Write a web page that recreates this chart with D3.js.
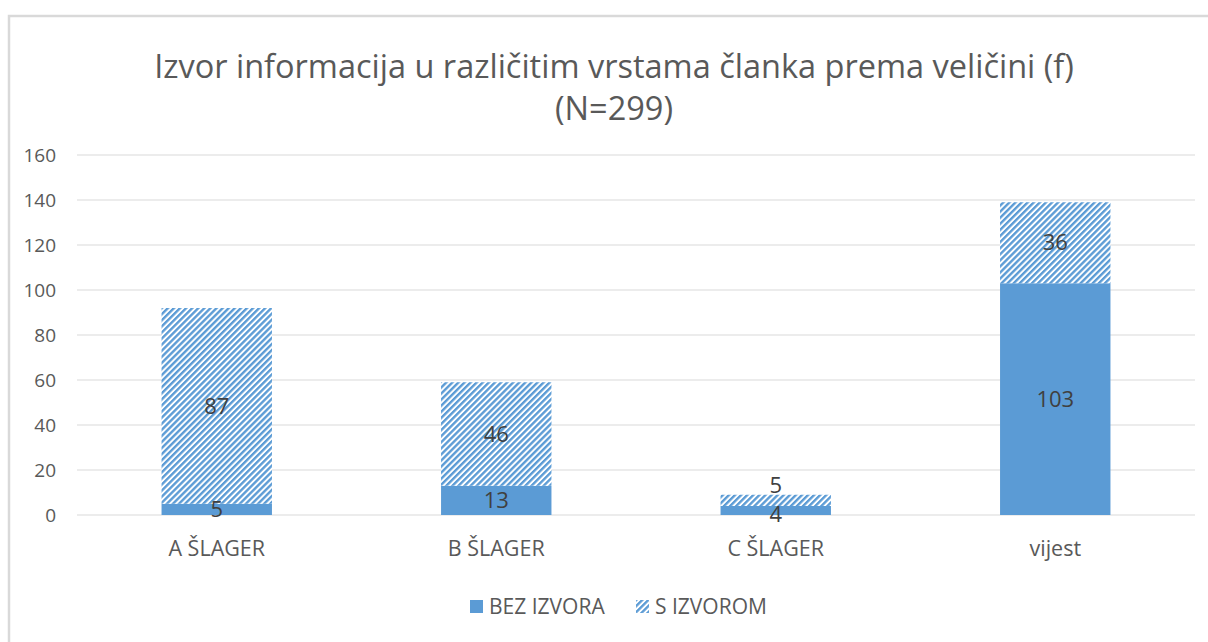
<!DOCTYPE html>
<html><head><meta charset="utf-8">
<script src="https://cdn.jsdelivr.net/npm/d3@7"></script>
<style>body{margin:0;background:#fff}svg{display:block}</style>
</head><body>
<script>
const categories = ["A ŠLAGER", "B ŠLAGER", "C ŠLAGER", "vijest"];
const bezIzvora = [5, 13, 4, 103];
const sIzvorom = [87, 46, 5, 36];
const seriesNames = ["BEZ IZVORA", "S IZVOROM"];
const yTicks = [0, 20, 40, 60, 80, 100, 120, 140, 160];
const titleLines = ["Izvor informacija u različitim vrstama članka prema veličini (f)", "(N=299)"];

const W = 1208, H = 642;
const font = "'Open Sans', 'Liberation Sans', sans-serif";
const blue = "#5B9BD5";
const svg = d3.select("body").append("svg").attr("width", W).attr("height", H);

const defs = svg.append("defs");
const pw = 4.3;
const pat = defs.append("pattern").attr("id", "hatch").attr("patternUnits", "userSpaceOnUse")
  .attr("width", pw).attr("height", pw).attr("patternTransform", "rotate(45)");
pat.append("rect").attr("width", pw).attr("height", pw).attr("fill", "#fff");
pat.append("rect").attr("x", 0).attr("width", pw * 0.55).attr("height", pw).attr("fill", blue);

// chart border
svg.append("rect").attr("x", 9).attr("y", 16).attr("width", W + 10).attr("height", H + 10)
  .attr("fill", "none").attr("stroke", "#d9d9d9").attr("stroke-width", 2.5);

const m = {left: 77, right: 1195, top: 155, bottom: 515};
const x = d3.scaleBand().domain(categories).range([m.left, m.right]).paddingInner(0.605).paddingOuter(0.3025);
const y = d3.scaleLinear().domain([0, 160]).range([m.bottom, m.top]);

// grid
svg.append("g").selectAll("line").data(yTicks).join("line")
  .attr("x1", m.left).attr("x2", m.right).attr("y1", d => y(d)).attr("y2", d => y(d))
  .attr("stroke", "#d9d9d9").attr("stroke-width", 1);

// y axis labels
const yAxis = svg.append("g").attr("transform", `translate(${m.left},0)`)
  .call(d3.axisLeft(y).tickValues(yTicks).tickSize(0).tickPadding(21));
yAxis.select(".domain").remove();
yAxis.selectAll("text").attr("font-family", font).attr("font-size", 19).attr("fill", "#595959");

// x axis labels
const xAxis = svg.append("g").attr("transform", `translate(0,${m.bottom})`)
  .call(d3.axisBottom(x).tickSize(0).tickPadding(26));
xAxis.select(".domain").remove();
xAxis.selectAll("text").attr("font-family", font).attr("font-size", 21.5).attr("fill", "#595959");

const data = categories.map((c, i) => ({cat: c, a: bezIzvora[i], b: sIzvorom[i]}));
const stack = d3.stack().keys(["a", "b"])(data);
const fills = [blue, "url(#hatch)"];

stack.forEach((s, k) => {
  svg.append("g").selectAll("rect").data(s).join("rect")
    .attr("x", d => x(d.data.cat)).attr("width", x.bandwidth())
    .attr("y", d => y(d[1])).attr("height", d => y(d[0]) - y(d[1]))
    .attr("fill", fills[k]);
});

// label positions, nudging apart labels of thin neighbouring segments
const labelY = (k, i) => {
  const seg = stack[k][i];
  const mid = (y(seg[0]) + y(seg[1])) / 2;
  const other = stack[1 - k][i];
  const otherMid = (y(other[0]) + y(other[1])) / 2;
  if (Math.abs(mid - otherMid) < 26) {
    return k === 1 ? y(seg[1]) - 9 : mid + 4;
  }
  return mid;
};
stack.forEach((s, k) => {
  svg.append("g").selectAll("text").data(s).join("text")
    .attr("x", d => x(d.data.cat) + x.bandwidth() / 2)
    .attr("y", (d, i) => labelY(k, i))
    .attr("dy", "0.35em").attr("text-anchor", "middle")
    .attr("font-family", font).attr("font-size", 22).attr("fill", "#404040")
    .text(d => d[1] - d[0]);
});

// title
svg.append("g").selectAll("text").data(titleLines).join("text")
  .attr("x", 614).attr("y", (d, i) => 78 + i * 42).attr("text-anchor", "middle")
  .attr("font-family", font).attr("font-size", 32.5).attr("fill", "#595959").text(d => d);

// legend
const lg = svg.append("g");
const items = [{name: seriesNames[0], fill: blue, x: 470}, {name: seriesNames[1], fill: "url(#hatch)", x: 636}];
items.forEach(it => {
  lg.append("rect").attr("x", it.x).attr("y", 600).attr("width", 13).attr("height", 13).attr("fill", it.fill);
  lg.append("text").attr("x", it.x + 19).attr("y", 607).attr("dy", "0.35em")
    .attr("font-family", font).attr("font-size", 21).attr("fill", "#595959").text(it.name);
});
</script>
</body></html>
